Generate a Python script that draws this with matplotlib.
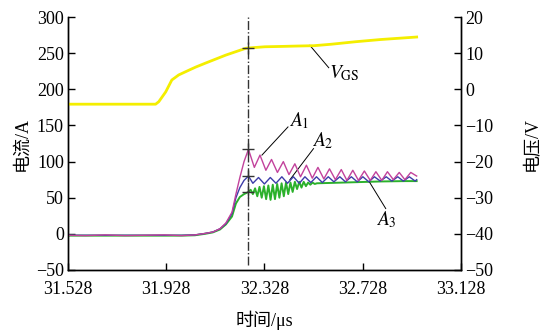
import matplotlib
matplotlib.use('Agg')
import matplotlib.pyplot as plt
import numpy as np

plt.rcParams['font.family'] = ['Liberation Serif', 'Noto Sans CJK SC']
plt.rcParams['mathtext.fontset'] = 'stix'
plt.rcParams['axes.unicode_minus'] = True

# ---- data ----
# common part before the turn-on peak (time in us, current in A)
t_rise = [31.528, 31.600, 31.680, 31.760, 31.840, 31.920, 31.990, 32.045,
          32.086, 32.118, 32.147, 32.171, 32.196, 32.212, 32.228, 32.245]
a1_rise = [-2, -2.5, -1.5, -2.5, -2, -1.5, -2.5, -1.5, 0.5, 2.5, 7, 15, 30, 55, 78, 100]
a2_rise = [-2, -2, -2, -2, -2, -2, -2, -1.5, 0.5, 2.5, 7, 14, 28, 50, 64, 74]
a3_rise = [-2.5, -2.5, -2.5, -2.5, -2.5, -2.5, -2.5, -2, 0, 2, 6, 13, 24, 42, 51, 55]

# A1: ringing after the peak
t_a1 = [32.263, 32.287, 32.310, 32.334, 32.357, 32.381, 32.405, 32.428, 32.452, 32.475,
        32.499, 32.523, 32.546, 32.570, 32.593, 32.617, 32.641, 32.664, 32.688, 32.711,
        32.735, 32.759, 32.782, 32.806, 32.829, 32.853, 32.877, 32.900, 32.924, 32.948]
a1 = [117, 92, 109, 88, 103, 85, 100, 82, 97, 79,
      95, 77, 92, 76, 90, 75, 89, 74, 88, 74,
      87, 74, 86, 74, 86, 75, 85, 75, 85, 80]

# A2: ringing, opposite phase to A1
t_a2 = [32.263, 32.281, 32.304, 32.328, 32.352, 32.375, 32.399, 32.422, 32.446, 32.470,
        32.493, 32.517, 32.540, 32.564, 32.588, 32.611, 32.635, 32.658, 32.682, 32.706,
        32.729, 32.753, 32.776, 32.800, 32.824, 32.847, 32.871, 32.894, 32.918, 32.942, 32.948]
a2 = [80, 70, 78, 69, 78, 70, 79, 70, 79, 70,
      79, 71, 79, 71, 79, 72, 79, 72, 79, 72,
      79, 72, 79, 73, 79, 73, 79, 73, 79, 73, 75]

# A3: fast ringing that dies out
t_a3 = [32.263, 32.272, 32.281, 32.290, 32.299, 32.308, 32.317, 32.326, 32.335, 32.344,
        32.353, 32.362, 32.371, 32.380, 32.389, 32.398, 32.407, 32.416, 32.425, 32.434,
        32.443, 32.452, 32.461, 32.470, 32.479, 32.488, 32.497, 32.506, 32.515, 32.524,
        32.533, 32.542, 32.600, 32.700, 32.800, 32.900, 32.948]
a3 = [58, 61, 55, 63, 52, 65, 50, 66, 48, 67,
      47, 68, 48, 69, 50, 70, 52, 71, 55, 71,
      58, 72, 62, 72, 64, 72, 66, 71, 68, 71,
      69, 70, 70.5, 71.5, 72.5, 73, 73]

# gate voltage (right axis, V)
t_vgs = [31.528, 31.600, 31.700, 31.800, 31.885, 31.898, 31.926, 31.951, 31.979, 32.020,
         32.049, 32.089, 32.171, 32.253, 32.290, 32.330, 32.400, 32.460, 32.530, 32.600,
         32.700, 32.800, 32.948]
vgs = [-4.1, -4.1, -4.1, -4.1, -4.1, -3.4, -0.7, 2.6, 4.0, 5.3,
       6.2, 7.3, 9.5, 11.4, 11.6, 11.8, 11.9, 12.0, 12.1, 12.5,
       13.2, 13.8, 14.5]

t_mark = 32.262
x_ticks = [31.528, 31.928, 32.328, 32.728, 33.128]
yl_ticks = [-50, 0, 50, 100, 150, 200, 250, 300]
yr_ticks = [-50, -40, -30, -20, -10, 0, 10, 20]

fig = plt.figure(figsize=(5.48, 3.30), dpi=100)
ax = fig.add_axes([0.124, 0.182, 0.717, 0.766])
ax2 = ax.twinx()

c_a1 = '#c2429c'
c_a2 = '#3c3ca8'
c_a3 = '#2bb12b'
c_v = '#f4ee00'

ax.plot(t_rise + t_a3, a3_rise + a3, color=c_a3, lw=1.4, zorder=2, solid_joinstyle='round')
ax.plot(t_rise + t_a2, a2_rise + a2, color=c_a2, lw=1.0, zorder=3, solid_joinstyle='round')
ax.plot(t_rise + t_a1, a1_rise + a1, color=c_a1, lw=1.0, zorder=4, solid_joinstyle='round')
ax2.plot(t_vgs, vgs, color=c_v, lw=2.0)

ax.axvline(t_mark, ymin=0.02, ymax=1.0, color='#333333', lw=1.0, ls='-.', zorder=5)

for v in (a1[0], a2[0], a3[0]):
    ax.plot([t_mark], [v], marker='+', ms=9, mec='#333333', mew=1.0, zorder=6)
ax2.plot([t_mark], [11.4], marker='+', ms=9, mec='#333333', mew=1.0, zorder=6)

# leader lines and labels
lk = dict(color='black', lw=0.7)
ax.plot([32.318, 32.424], [109, 148], **lk)
ax.text(32.468, 157, '$A_1$', fontsize=14, ha='center', va='center')
ax.plot([32.432, 32.528], [75, 118], **lk)
ax.text(32.566, 129, '$A_2$', fontsize=14, ha='center', va='center')
ax.plot([32.757, 32.822], [71, 35], **lk)
ax.text(32.826, 20, '$A_3$', fontsize=14, ha='center', va='center')
ax.plot([32.513, 32.590], [261, 230], **lk)
ax.text(32.655, 223, r'$V_{\mathrm{GS}}$', fontsize=14, ha='center', va='center')

ax.set_xlim(31.528, 33.128)
ax.set_ylim(-50, 300)
ax2.set_ylim(-50, 20)
ax.set_xticks(x_ticks)
ax.set_xticklabels([f'{v:.3f}' for v in x_ticks])
ax.set_yticks(yl_ticks)
ax2.set_yticks(yr_ticks)

for a in (ax, ax2):
    a.spines['top'].set_visible(False)
    a.tick_params(direction='in', length=5, width=1, labelsize=13, pad=3)
    for s in a.spines.values():
        s.set_linewidth(1.0)
ax.tick_params(axis='x', pad=8)

ax.set_xlabel('时间/μs', fontsize=13, labelpad=9)
ax.set_ylabel('电流/A', fontsize=13, labelpad=4)
ax2.set_ylabel('电压/V', fontsize=13, labelpad=22)

fig.savefig('out.png', dpi=100)
